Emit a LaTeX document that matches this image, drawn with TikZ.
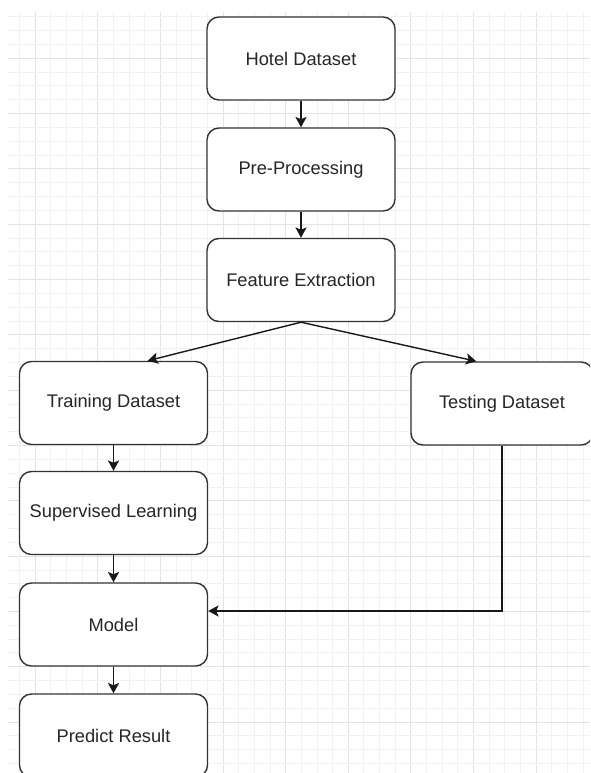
\documentclass[tikz,border=0pt]{standalone}
\usepackage{fontspec}
\setmainfont{Liberation Sans}
\usetikzlibrary{arrows.meta,calc}
\begin{document}
\begin{tikzpicture}[x=0.025cm, y=-0.025cm,
  box/.style={draw=black!80, line width=1pt, rounded corners=0.3cm, fill=white,
    minimum width=4.7cm, minimum height=2.075cm, align=center,
    font=\fontsize{13}{15}\selectfont, text=black!85},
  arr/.style={-{Stealth[length=0.26cm, width=0.28cm, inset=0.06cm]}, line width=1pt, black!90},
  minor/.style={black!5, line width=0.7pt},
  major/.style={black!11, line width=0.7pt}
]
\useasboundingbox (0,0) rectangle (590,773);
\clip (0,0) rectangle (590,773);
% background grid
\foreach \i in {1,...,37} {
  \pgfmathtruncatemacro{\m}{mod(\i,4)}
  \ifnum\m=2 \draw[major] ({4+15.65*\i},12) -- ({4+15.65*\i},773);
  \else \draw[minor] ({4+15.65*\i},12) -- ({4+15.65*\i},773); \fi
}
\foreach \j in {0,...,54} {
  \pgfmathtruncatemacro{\m}{mod(\j,4)}
  \ifnum\m=3 \draw[major] (8,{16.8+13.83*\j}) -- (590,{16.8+13.83*\j});
  \else \draw[minor] (8,{16.8+13.83*\j}) -- (590,{16.8+13.83*\j}); \fi
}
% steps
\node[box] (hotel) at (301,58.5) {Hotel Dataset};
\node[box] (pre) at (301,169.5) {Pre-Processing};
\node[box] (feat) at (301,280) {Feature Extraction};
\node[box] (train) at (113.5,403) {Training Dataset};
\node[box, minimum width=4.55cm] (test) at (502,403.5) {Testing Dataset};
\node[box] (sup) at (113.5,513) {Supervised Learning};
\node[box] (model) at (113.5,624.5) {Model};
\node[box] (pred) at (113.5,735.5) {Predict Result};
% flow
\draw[arr] (hotel) -- (pre);
\draw[arr] (pre) -- (feat);
\draw[arr] (feat.south) -- ($(train.north west)!0.68!(train.north east)$);
\draw[arr] (feat.south) -- ($(test.north west)!0.36!(test.north east)$);
\draw[arr] (train) -- (sup);
\draw[arr] (sup) -- (model);
\draw[arr] (model) -- (pred);
\draw[arr] (test.south) |- ($(model.east)+(0,-13.5)$);
\end{tikzpicture}
\end{document}
